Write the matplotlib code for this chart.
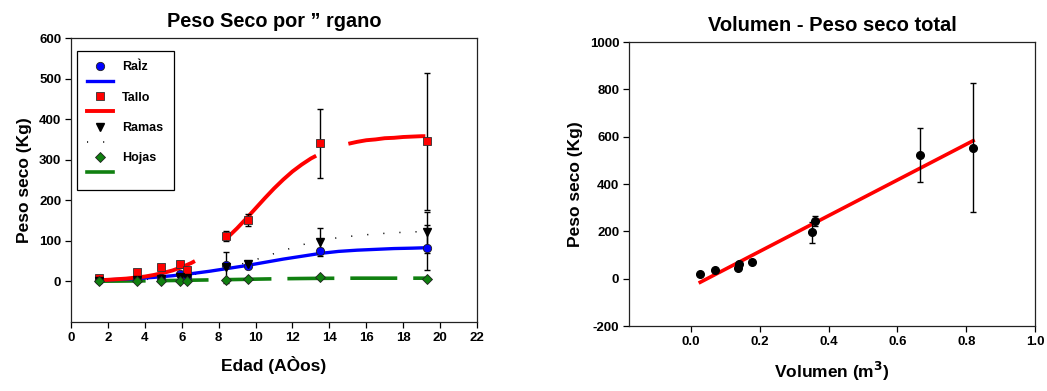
import matplotlib.pyplot as plt
from matplotlib.lines import Line2D

plt.rcParams['font.family'] = ['Liberation Sans', 'DejaVu Sans']
plt.rcParams['font.weight'] = 'bold'
plt.rcParams['lines.scale_dashes'] = False
plt.rcParams['axes.unicode_minus'] = False

# --- left panel: dry weight per organ vs age ---
edad = [1.5, 3.6, 4.9, 5.9, 6.3, 8.4, 9.6, 13.5, 19.3]
raiz = [3, 5, 8, 18, 12, 41, 38, 75, 83]
tallo = [8, 22, 35, 44, 27, 112, 151, 340, 345]
ramas = [2, 4, 6, 10, 8, 35, 44, 97, 121]
hojas = [1, 1, 2, 2, 2, 4, 6, 12, 5]

raiz_err = [0, 0, 0, 0, 0, 0, 0, 8, 55]
tallo_err = [0, 0, 0, 0, 0, 12, 15, 86, 168]
ramas_err = [0, 0, 0, 0, 0, 38, 0, 35, 50]

# fitted curves
tallo_cx = [1.5, 2.0, 2.5, 3.0, 3.5, 4.0, 4.5, 5.0, 5.5, 6.0, 6.5, 7.0, 7.5,
            8.0, 8.5, 9.0, 9.5, 10.0, 10.5, 11.0, 11.5, 12.0, 12.5, 13.0,
            13.5, 14.0, 14.5, 15.0, 15.5, 16.0, 16.5, 17.0, 17.5, 18.0,
            18.5, 19.0, 19.2]
tallo_cy = [3, 4, 5.5, 7, 9.5, 12, 16, 21, 27, 35, 45, 57, 72,
            89, 109, 131, 155, 180, 205, 229, 251, 271, 288, 303,
            315, 325, 333, 339, 344, 348, 350, 353, 354, 356,
            357, 358, 358]

curva_x = [1.5, 2.5, 3.5, 4.5, 5.5, 6.5, 7.5, 8.5, 9.5, 10.5, 11.5, 12.5,
           13.5, 14.5, 15.5, 16.5, 17.5, 18.5, 19.2]
curva_raiz = [3, 5, 7, 10, 14, 19, 25, 32, 39, 47, 55, 62,
              69, 74, 77, 79, 81, 82, 83]
curva_ramas = [1, 2, 4, 6, 10, 16, 24, 34, 46, 61, 76, 90,
               101, 108, 113, 117, 120, 122, 123]
curva_hojas = [0.5, 0.8, 1.2, 1.7, 2.3, 3, 3.7, 4.4, 5.2, 6, 6.7, 7.2,
               7.6, 7.8, 8, 8, 8, 8, 8]

# --- right panel: volume vs total dry weight ---
volumen = [0.026, 0.07, 0.136, 0.14, 0.178, 0.351, 0.36, 0.667, 0.821]
peso_total = [20, 37, 46, 60, 72, 196, 244, 522, 554]
peso_err = [0, 0, 0, 0, 0, 44, 22, 113, 273]
ajuste_x = [0.027, 0.82]
ajuste_y = [-15, 583]

red_dash = (71.3, 29.9, 86.4, 24.8, 300)
green_dash = (33.8, 11.5)
dot_dash = (0.8, 10.8)

fig = plt.figure(figsize=(10.47, 3.91), dpi=100)
ax1 = fig.add_axes([0.0678, 0.1765, 0.3878, 0.7263])
ax2 = fig.add_axes([0.6008, 0.1662, 0.3878, 0.7263])

ax1.plot(curva_x, curva_ramas, color='black', lw=1.1, dashes=dot_dash, zorder=2)
ax1.plot(curva_x, curva_hojas, color='#108010', lw=2.6, dashes=green_dash, zorder=2)
ax1.plot(curva_x, curva_raiz, color='#0000ff', lw=2.4, zorder=2)
ax1.plot(tallo_cx, tallo_cy, color='#ff0000', lw=2.8, dashes=red_dash, zorder=2)

eb = dict(fmt='none', ecolor='black', elinewidth=1, capsize=2.5, capthick=1, zorder=3)
ax1.errorbar(edad, tallo, yerr=tallo_err, **eb)
ax1.errorbar(edad, ramas, yerr=ramas_err, **eb)
ax1.errorbar(edad, raiz, yerr=raiz_err, **eb)

ax1.plot(edad, raiz, 'o', color='#0000ff', mec='#202020', mew=0.6, ms=6, ls='none', zorder=4)
ax1.plot(edad, tallo, 's', color='#ff0000', mec='#303030', mew=0.6, ms=5.5, ls='none', zorder=4)
ax1.plot(edad, ramas, 'v', color='black', ms=5.5, ls='none', zorder=4)
ax1.plot(edad, hojas, 'D', color='#108010', mec='#202020', mew=0.6, ms=5, ls='none', zorder=4)

handles = [
    Line2D([], [], marker='o', color='#0000ff', mec='#202020', mew=0.6, ms=6, ls='none'),
    Line2D([], [], color='#0000ff', lw=2.4),
    Line2D([], [], marker='s', color='#ff0000', mec='#303030', mew=0.6, ms=5.5, ls='none'),
    Line2D([], [], color='#ff0000', lw=2.8),
    Line2D([], [], marker='v', color='black', ms=5.5, ls='none'),
    Line2D([], [], color='black', lw=1.1, dashes=dot_dash),
    Line2D([], [], marker='D', color='#108010', mec='#202020', mew=0.6, ms=5, ls='none'),
    Line2D([], [], color='#108010', lw=2.6),
]
labels = ['RaÌz', ' ', 'Tallo', ' ', 'Ramas', ' ', 'Hojas', ' ']
leg = ax1.legend(handles, labels, loc='upper left', bbox_to_anchor=(0.014, 0.955),
                 fancybox=False, edgecolor='black', framealpha=1, fontsize=9,
                 handlelength=2.05, handletextpad=0.74, labelspacing=0.25,
                 borderpad=0.85, borderaxespad=0)
leg.get_frame().set_linewidth(0.9)

ax1.set_xlim(0, 22)
ax1.set_ylim(-100, 600)
ax1.set_xticks(range(0, 23, 2))
ax1.set_yticks(range(0, 601, 100))
ax1.set_title('Peso Seco por ” rgano', fontsize=14.3, fontweight='bold', pad=8)
ax1.set_xlabel('Edad (AÒos)', fontsize=12.5, fontweight='bold', labelpad=9)
ax1.set_ylabel('Peso seco (Kg)', fontsize=12.5, fontweight='bold', labelpad=5)

ax2.errorbar(volumen, peso_total, yerr=peso_err, **eb)
ax2.plot(ajuste_x, ajuste_y, color='#ff0000', lw=2.6, zorder=2)
ax2.plot(volumen, peso_total, 'o', color='black', ms=5.5, ls='none', zorder=4)

ax2.set_xlim(-0.18, 1.0)
ax2.set_ylim(-200, 1000)
ax2.set_xticks([0.0, 0.2, 0.4, 0.6, 0.8, 1.0])
ax2.set_xticklabels(['0.0', '0.2', '0.4', '0.6', '0.8', '1.0'])
ax2.set_yticks(range(-200, 1001, 200))
ax2.set_title('Volumen - Peso seco total', fontsize=14.5, fontweight='bold', pad=8)
ax2.set_xlabel('Volumen (m$^\\mathbf{3}$)', fontsize=12.5, fontweight='bold', labelpad=9)
ax2.set_ylabel('Peso seco (Kg)', fontsize=12.5, fontweight='bold', labelpad=5)

for ax in (ax1, ax2):
    for s in ax.spines.values():
        s.set_linewidth(0.9)
        s.set_color('#222222')
    ax.tick_params(direction='out', length=4, width=0.9, labelsize=9.5, pad=3)
    for lab in ax.get_xticklabels() + ax.get_yticklabels():
        lab.set_fontweight('bold')

fig.savefig('out.png', dpi=100)
